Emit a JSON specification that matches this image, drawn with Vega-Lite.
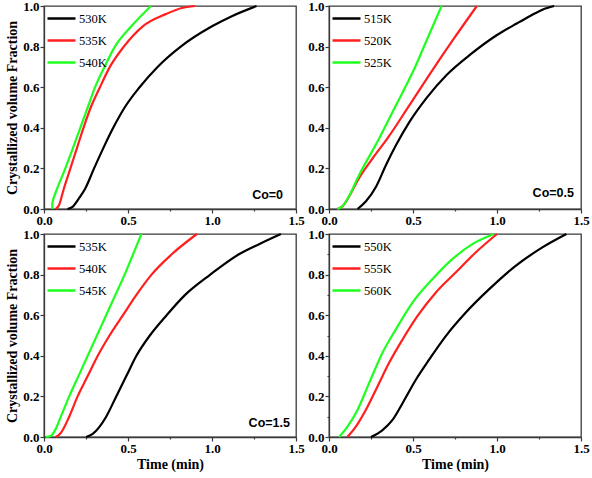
{
  "$schema": "https://vega.github.io/schema/vega-lite/v6.json",
  "autosize": "none",
  "padding": {"left": 44, "top": 6, "right": 548, "bottom": 472},
  "background": "white",
  "datasets": {
    "c": [
      {"p": 1, "T": "530K", "t": 0.14, "f": 0},
      {"p": 1, "T": "530K", "t": 0.17, "f": 0.01},
      {"p": 1, "T": "530K", "t": 0.206, "f": 0.05},
      {"p": 1, "T": "530K", "t": 0.245, "f": 0.1},
      {"p": 1, "T": "530K", "t": 0.298, "f": 0.2},
      {"p": 1, "T": "530K", "t": 0.353, "f": 0.3},
      {"p": 1, "T": "530K", "t": 0.412, "f": 0.4},
      {"p": 1, "T": "530K", "t": 0.48, "f": 0.5},
      {"p": 1, "T": "530K", "t": 0.569, "f": 0.6},
      {"p": 1, "T": "530K", "t": 0.676, "f": 0.7},
      {"p": 1, "T": "530K", "t": 0.814, "f": 0.8},
      {"p": 1, "T": "530K", "t": 1.0, "f": 0.9},
      {"p": 1, "T": "530K", "t": 1.118, "f": 0.95},
      {"p": 1, "T": "530K", "t": 1.265, "f": 1.0},
      {"p": 1, "T": "535K", "t": 0.07, "f": 0},
      {"p": 1, "T": "535K", "t": 0.09, "f": 0.02},
      {"p": 1, "T": "535K", "t": 0.118, "f": 0.1},
      {"p": 1, "T": "535K", "t": 0.157, "f": 0.2},
      {"p": 1, "T": "535K", "t": 0.196, "f": 0.3},
      {"p": 1, "T": "535K", "t": 0.235, "f": 0.4},
      {"p": 1, "T": "535K", "t": 0.278, "f": 0.5},
      {"p": 1, "T": "535K", "t": 0.333, "f": 0.6},
      {"p": 1, "T": "535K", "t": 0.392, "f": 0.7},
      {"p": 1, "T": "535K", "t": 0.475, "f": 0.8},
      {"p": 1, "T": "535K", "t": 0.588, "f": 0.9},
      {"p": 1, "T": "535K", "t": 0.725, "f": 0.96},
      {"p": 1, "T": "535K", "t": 0.82, "f": 0.99},
      {"p": 1, "T": "535K", "t": 0.9, "f": 1.0},
      {"p": 1, "T": "540K", "t": 0.049, "f": 0},
      {"p": 1, "T": "540K", "t": 0.05, "f": 0.03},
      {"p": 1, "T": "540K", "t": 0.06, "f": 0.06},
      {"p": 1, "T": "540K", "t": 0.078, "f": 0.1},
      {"p": 1, "T": "540K", "t": 0.127, "f": 0.2},
      {"p": 1, "T": "540K", "t": 0.172, "f": 0.3},
      {"p": 1, "T": "540K", "t": 0.216, "f": 0.4},
      {"p": 1, "T": "540K", "t": 0.26, "f": 0.5},
      {"p": 1, "T": "540K", "t": 0.304, "f": 0.6},
      {"p": 1, "T": "540K", "t": 0.36, "f": 0.7},
      {"p": 1, "T": "540K", "t": 0.422, "f": 0.8},
      {"p": 1, "T": "540K", "t": 0.52, "f": 0.9},
      {"p": 1, "T": "540K", "t": 0.637, "f": 1.0},

      {"p": 2, "T": "515K", "t": 0.17, "f": 0},
      {"p": 2, "T": "515K", "t": 0.22, "f": 0.038},
      {"p": 2, "T": "515K", "t": 0.28, "f": 0.11},
      {"p": 2, "T": "515K", "t": 0.34, "f": 0.218},
      {"p": 2, "T": "515K", "t": 0.4, "f": 0.316},
      {"p": 2, "T": "515K", "t": 0.48, "f": 0.43},
      {"p": 2, "T": "515K", "t": 0.58, "f": 0.546},
      {"p": 2, "T": "515K", "t": 0.7, "f": 0.66},
      {"p": 2, "T": "515K", "t": 0.84, "f": 0.76},
      {"p": 2, "T": "515K", "t": 1.0, "f": 0.857},
      {"p": 2, "T": "515K", "t": 1.12, "f": 0.915},
      {"p": 2, "T": "515K", "t": 1.2, "f": 0.952},
      {"p": 2, "T": "515K", "t": 1.27, "f": 0.982},
      {"p": 2, "T": "515K", "t": 1.34, "f": 1.0},
      {"p": 2, "T": "520K", "t": 0.05, "f": 0},
      {"p": 2, "T": "520K", "t": 0.08, "f": 0.013},
      {"p": 2, "T": "520K", "t": 0.12, "f": 0.062},
      {"p": 2, "T": "520K", "t": 0.17, "f": 0.14},
      {"p": 2, "T": "520K", "t": 0.26, "f": 0.25},
      {"p": 2, "T": "520K", "t": 0.35, "f": 0.35},
      {"p": 2, "T": "520K", "t": 0.48, "f": 0.513},
      {"p": 2, "T": "520K", "t": 0.61, "f": 0.677},
      {"p": 2, "T": "520K", "t": 0.744, "f": 0.84},
      {"p": 2, "T": "520K", "t": 0.88, "f": 1.0},
      {"p": 2, "T": "525K", "t": 0.05, "f": 0},
      {"p": 2, "T": "525K", "t": 0.08, "f": 0.013},
      {"p": 2, "T": "525K", "t": 0.12, "f": 0.064},
      {"p": 2, "T": "525K", "t": 0.17, "f": 0.152},
      {"p": 2, "T": "525K", "t": 0.3, "f": 0.35},
      {"p": 2, "T": "525K", "t": 0.4, "f": 0.513},
      {"p": 2, "T": "525K", "t": 0.5, "f": 0.677},
      {"p": 2, "T": "525K", "t": 0.586, "f": 0.84},
      {"p": 2, "T": "525K", "t": 0.67, "f": 1.0},

      {"p": 3, "T": "535K", "t": 0.25, "f": 0},
      {"p": 3, "T": "535K", "t": 0.29, "f": 0.015},
      {"p": 3, "T": "535K", "t": 0.33, "f": 0.05},
      {"p": 3, "T": "535K", "t": 0.37, "f": 0.1},
      {"p": 3, "T": "535K", "t": 0.43, "f": 0.2},
      {"p": 3, "T": "535K", "t": 0.49, "f": 0.3},
      {"p": 3, "T": "535K", "t": 0.55, "f": 0.4},
      {"p": 3, "T": "535K", "t": 0.63, "f": 0.5},
      {"p": 3, "T": "535K", "t": 0.73, "f": 0.6},
      {"p": 3, "T": "535K", "t": 0.84, "f": 0.7},
      {"p": 3, "T": "535K", "t": 0.99, "f": 0.8},
      {"p": 3, "T": "535K", "t": 1.16, "f": 0.9},
      {"p": 3, "T": "535K", "t": 1.28, "f": 0.95},
      {"p": 3, "T": "535K", "t": 1.41, "f": 1.0},
      {"p": 3, "T": "540K", "t": 0.07, "f": 0},
      {"p": 3, "T": "540K", "t": 0.1, "f": 0.02},
      {"p": 3, "T": "540K", "t": 0.15, "f": 0.1},
      {"p": 3, "T": "540K", "t": 0.2, "f": 0.2},
      {"p": 3, "T": "540K", "t": 0.26, "f": 0.3},
      {"p": 3, "T": "540K", "t": 0.32, "f": 0.4},
      {"p": 3, "T": "540K", "t": 0.39, "f": 0.5},
      {"p": 3, "T": "540K", "t": 0.47, "f": 0.6},
      {"p": 3, "T": "540K", "t": 0.55, "f": 0.7},
      {"p": 3, "T": "540K", "t": 0.64, "f": 0.8},
      {"p": 3, "T": "540K", "t": 0.76, "f": 0.9},
      {"p": 3, "T": "540K", "t": 0.91, "f": 1.0},
      {"p": 3, "T": "545K", "t": 0.01, "f": 0},
      {"p": 3, "T": "545K", "t": 0.04, "f": 0.005},
      {"p": 3, "T": "545K", "t": 0.07, "f": 0.04},
      {"p": 3, "T": "545K", "t": 0.1, "f": 0.1},
      {"p": 3, "T": "545K", "t": 0.15, "f": 0.2},
      {"p": 3, "T": "545K", "t": 0.205, "f": 0.3},
      {"p": 3, "T": "545K", "t": 0.26, "f": 0.4},
      {"p": 3, "T": "545K", "t": 0.315, "f": 0.5},
      {"p": 3, "T": "545K", "t": 0.37, "f": 0.6},
      {"p": 3, "T": "545K", "t": 0.425, "f": 0.7},
      {"p": 3, "T": "545K", "t": 0.48, "f": 0.8},
      {"p": 3, "T": "545K", "t": 0.53, "f": 0.9},
      {"p": 3, "T": "545K", "t": 0.58, "f": 1.0},

      {"p": 4, "T": "550K", "t": 0.25, "f": 0},
      {"p": 4, "T": "550K", "t": 0.317, "f": 0.033},
      {"p": 4, "T": "550K", "t": 0.377, "f": 0.083},
      {"p": 4, "T": "550K", "t": 0.437, "f": 0.165},
      {"p": 4, "T": "550K", "t": 0.516, "f": 0.281},
      {"p": 4, "T": "550K", "t": 0.595, "f": 0.38},
      {"p": 4, "T": "550K", "t": 0.694, "f": 0.496},
      {"p": 4, "T": "550K", "t": 0.813, "f": 0.612},
      {"p": 4, "T": "550K", "t": 0.952, "f": 0.727},
      {"p": 4, "T": "550K", "t": 1.111, "f": 0.843},
      {"p": 4, "T": "550K", "t": 1.27, "f": 0.934},
      {"p": 4, "T": "550K", "t": 1.413, "f": 1.0},
      {"p": 4, "T": "555K", "t": 0.109, "f": 0},
      {"p": 4, "T": "555K", "t": 0.159, "f": 0.05},
      {"p": 4, "T": "555K", "t": 0.218, "f": 0.132},
      {"p": 4, "T": "555K", "t": 0.288, "f": 0.248},
      {"p": 4, "T": "555K", "t": 0.357, "f": 0.364},
      {"p": 4, "T": "555K", "t": 0.437, "f": 0.479},
      {"p": 4, "T": "555K", "t": 0.526, "f": 0.595},
      {"p": 4, "T": "555K", "t": 0.635, "f": 0.711},
      {"p": 4, "T": "555K", "t": 0.754, "f": 0.81},
      {"p": 4, "T": "555K", "t": 0.873, "f": 0.909},
      {"p": 4, "T": "555K", "t": 1.0, "f": 1.0},
      {"p": 4, "T": "560K", "t": 0.06, "f": 0},
      {"p": 4, "T": "560K", "t": 0.109, "f": 0.05},
      {"p": 4, "T": "560K", "t": 0.169, "f": 0.132},
      {"p": 4, "T": "560K", "t": 0.238, "f": 0.264},
      {"p": 4, "T": "560K", "t": 0.317, "f": 0.413},
      {"p": 4, "T": "560K", "t": 0.397, "f": 0.529},
      {"p": 4, "T": "560K", "t": 0.496, "f": 0.661},
      {"p": 4, "T": "560K", "t": 0.615, "f": 0.777},
      {"p": 4, "T": "560K", "t": 0.734, "f": 0.876},
      {"p": 4, "T": "560K", "t": 0.853, "f": 0.95},
      {"p": 4, "T": "560K", "t": 0.982, "f": 1.0}
    ]
  },
  "bounds": "flush",
  "columns": 2,
  "spacing": {"row": 25, "column": 33},
  "resolve": {"scale": {"color": "independent"}, "legend": {"color": "independent"}},
  "concat": [
    {
      "width": 252, "height": 203,
      "layer": [
        {
          "data": {"name": "c"},
          "transform": [{"filter": "datum.p == 1"}],
          "mark": {"type": "line", "interpolate": "monotone", "strokeWidth": 2.2},
          "encoding": {
            "x": {"field": "t", "type": "quantitative", "scale": {"domain": [0, 1.5], "nice": false},
              "axis": {"title": null, "values": [0, 0.25, 0.5, 0.75, 1, 1.25, 1.5], "labelExpr": "datum.value * 2 == round(datum.value * 2) ? format(datum.value, '.1f') : ''", "tickSize": {"condition": {"test": "datum.value * 2 == round(datum.value * 2)", "value": 4}, "value": 2}}},
            "y": {"field": "f", "type": "quantitative", "scale": {"domain": [0, 1], "nice": false},
              "axis": {"title": "Crystallized volume Fraction", "values": [0, 0.1, 0.2, 0.3, 0.4, 0.5, 0.6, 0.7, 0.8, 0.9, 1], "labelExpr": "round(datum.value * 10) % 2 == 0 ? format(datum.value, '.1f') : ''", "tickSize": {"condition": {"test": "round(datum.value * 10) % 2 == 0", "value": 4}, "value": 2}}},
            "color": {"field": "T", "type": "nominal", "scale": {"domain": ["530K", "535K", "540K"], "range": ["#000000", "#ff1f1f", "#1fff1f"]}}
          }
        },
        {
          "data": {"values": [{"label": "Co=0"}]},
          "mark": {"type": "text", "align": "right", "baseline": "middle", "font": "Liberation Sans", "fontWeight": "bold", "fontSize": 12.5, "color": "#000000"},
          "encoding": {"x": {"datum": 1.423, "type": "quantitative"}, "y": {"datum": 0.069, "type": "quantitative"}, "text": {"field": "label"}}
        }
      ]
    },
    {
      "width": 252, "height": 203,
      "layer": [
        {
          "data": {"name": "c"},
          "transform": [{"filter": "datum.p == 2"}],
          "mark": {"type": "line", "interpolate": "monotone", "strokeWidth": 2.2},
          "encoding": {
            "x": {"field": "t", "type": "quantitative", "scale": {"domain": [0, 1.5], "nice": false},
              "axis": {"title": null, "values": [0, 0.25, 0.5, 0.75, 1, 1.25, 1.5], "labelExpr": "datum.value * 2 == round(datum.value * 2) ? format(datum.value, '.1f') : ''", "tickSize": {"condition": {"test": "datum.value * 2 == round(datum.value * 2)", "value": 4}, "value": 2}}},
            "y": {"field": "f", "type": "quantitative", "scale": {"domain": [0, 1], "nice": false},
              "axis": {"title": null, "values": [0, 0.1, 0.2, 0.3, 0.4, 0.5, 0.6, 0.7, 0.8, 0.9, 1], "labelExpr": "round(datum.value * 10) % 2 == 0 ? format(datum.value, '.1f') : ''", "tickSize": {"condition": {"test": "round(datum.value * 10) % 2 == 0", "value": 4}, "value": 2}}},
            "color": {"field": "T", "type": "nominal", "scale": {"domain": ["515K", "520K", "525K"], "range": ["#000000", "#ff1f1f", "#1fff1f"]}}
          }
        },
        {
          "data": {"values": [{"label": "Co=0.5"}]},
          "mark": {"type": "text", "align": "right", "baseline": "middle", "font": "Liberation Sans", "fontWeight": "bold", "fontSize": 12.5, "color": "#000000"},
          "encoding": {"x": {"datum": 1.458, "type": "quantitative"}, "y": {"datum": 0.079, "type": "quantitative"}, "text": {"field": "label"}}
        }
      ]
    },
    {
      "width": 252, "height": 203,
      "layer": [
        {
          "data": {"name": "c"},
          "transform": [{"filter": "datum.p == 3"}],
          "mark": {"type": "line", "interpolate": "monotone", "strokeWidth": 2.2},
          "encoding": {
            "x": {"field": "t", "type": "quantitative", "scale": {"domain": [0, 1.5], "nice": false},
              "axis": {"title": "Time (min)", "values": [0, 0.25, 0.5, 0.75, 1, 1.25, 1.5], "labelExpr": "datum.value * 2 == round(datum.value * 2) ? format(datum.value, '.1f') : ''", "tickSize": {"condition": {"test": "datum.value * 2 == round(datum.value * 2)", "value": 4}, "value": 2}}},
            "y": {"field": "f", "type": "quantitative", "scale": {"domain": [0, 1], "nice": false},
              "axis": {"title": "Crystallized volume Fraction", "values": [0, 0.1, 0.2, 0.3, 0.4, 0.5, 0.6, 0.7, 0.8, 0.9, 1], "labelExpr": "round(datum.value * 10) % 2 == 0 ? format(datum.value, '.1f') : ''", "tickSize": {"condition": {"test": "round(datum.value * 10) % 2 == 0", "value": 4}, "value": 2}}},
            "color": {"field": "T", "type": "nominal", "scale": {"domain": ["535K", "540K", "545K"], "range": ["#000000", "#ff1f1f", "#1fff1f"]}}
          }
        },
        {
          "data": {"values": [{"label": "Co=1.5"}]},
          "mark": {"type": "text", "align": "right", "baseline": "middle", "font": "Liberation Sans", "fontWeight": "bold", "fontSize": 12.5, "color": "#000000"},
          "encoding": {"x": {"datum": 1.464, "type": "quantitative"}, "y": {"datum": 0.07, "type": "quantitative"}, "text": {"field": "label"}}
        }
      ]
    },
    {
      "width": 252, "height": 203,
      "layer": [
        {
          "data": {"name": "c"},
          "transform": [{"filter": "datum.p == 4"}],
          "mark": {"type": "line", "interpolate": "monotone", "strokeWidth": 2.2},
          "encoding": {
            "x": {"field": "t", "type": "quantitative", "scale": {"domain": [0, 1.5], "nice": false},
              "axis": {"title": "Time (min)", "values": [0, 0.25, 0.5, 0.75, 1, 1.25, 1.5], "labelExpr": "datum.value * 2 == round(datum.value * 2) ? format(datum.value, '.1f') : ''", "tickSize": {"condition": {"test": "datum.value * 2 == round(datum.value * 2)", "value": 4}, "value": 2}}},
            "y": {"field": "f", "type": "quantitative", "scale": {"domain": [0, 1], "nice": false},
              "axis": {"title": null, "values": [0, 0.1, 0.2, 0.3, 0.4, 0.5, 0.6, 0.7, 0.8, 0.9, 1], "labelExpr": "round(datum.value * 10) % 2 == 0 ? format(datum.value, '.1f') : ''", "tickSize": {"condition": {"test": "round(datum.value * 10) % 2 == 0", "value": 4}, "value": 2}}},
            "color": {"field": "T", "type": "nominal", "scale": {"domain": ["550K", "555K", "560K"], "range": ["#000000", "#ff1f1f", "#1fff1f"]}}
          }
        }
      ]
    }
  ],
  "config": {
    "view": {"stroke": "#3a3a3a", "strokeWidth": 1.3},
    "axis": {
      "grid": false,
      "labelFont": "Liberation Serif", "labelFontWeight": "bold", "labelFontSize": 13, "labelColor": "#000000",
      "labelPadding": 1, "labelOverlap": false, "labelFlush": false, "labelBound": false,
      "titleFont": "Liberation Serif", "titleFontWeight": "bold", "titleFontSize": 14, "titleColor": "#000000",
      "domainColor": "#3a3a3a", "domainWidth": 1.3, "tickColor": "#3a3a3a", "tickWidth": 1.2
    },
    "axisX": {"titlePadding": 2},
    "axisY": {"titlePadding": 3},
    "legend": {
      "title": null, "orient": "none", "legendX": 2, "legendY": -3, "padding": 0,
      "symbolType": "stroke", "symbolSize": 784, "symbolStrokeWidth": 2.5,
      "labelFont": "Liberation Serif", "labelFontSize": 12.5, "labelColor": "#000000",
      "labelOffset": 2, "rowPadding": -10.5
    }
  }
}
